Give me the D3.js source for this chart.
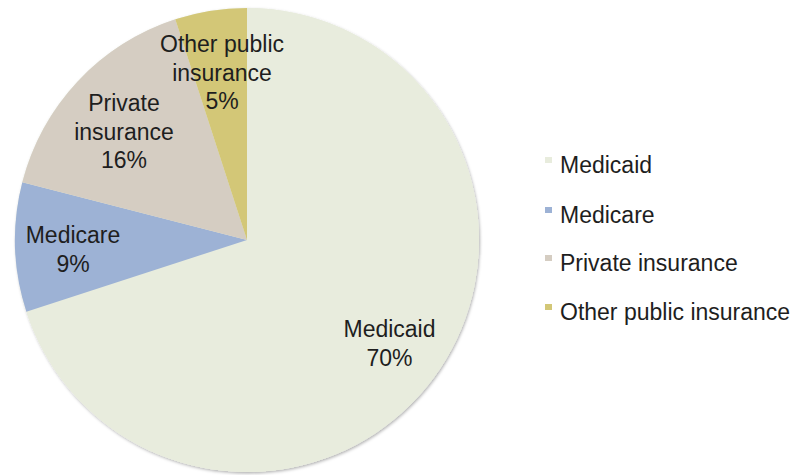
<!DOCTYPE html>
<html><head><meta charset="utf-8">
<script src="https://cdn.jsdelivr.net/npm/d3@7"></script>
<style>body{margin:0;background:#fff;}svg{display:block;}</style>
</head><body>
<svg id="c" width="799" height="475"></svg>
<script>
const categories = ["Medicaid", "Medicare", "Private insurance", "Other public insurance"];
const values = [70, 9, 16, 5];
const sliceLabels = [["Medicaid", "70%"], ["Medicare", "9%"], ["Private", "insurance", "16%"], ["Other public", "insurance", "5%"]];
const colors = ["#e8ecdd", "#9db2d5", "#d5cdc2", "#d3c777"];

const svg = d3.select("#c");
const cx = 247, cy = 240, R = 232;
const font = "Helvetica, 'Liberation Sans', Arial, sans-serif";

const defs = svg.append("defs");
const f = defs.append("filter").attr("id","sh").attr("x","-10%").attr("y","-10%").attr("width","120%").attr("height","120%");
f.append("feDropShadow").attr("dx",1).attr("dy",1.5).attr("stdDeviation",1.5).attr("flood-color","#000").attr("flood-opacity",0.3);

const pie = d3.pie().sort(null).value(d => d)(values);
const arc = d3.arc().innerRadius(0).outerRadius(R);
const g = svg.append("g").attr("transform", `translate(${cx},${cy})`);
g.append("circle").attr("r", R).attr("fill", colors[0]).attr("filter","url(#sh)");
g.selectAll("path.s").data(pie).join("path").attr("class","s")
  .attr("d", arc).attr("fill", (d,i) => colors[i]);

// label anchor: x center and first baseline, relative to pie center
const labelPos = [[142.5, 97], [-174, 3], [-123, -129], [-25, -188]];
const lh = 28.5;
pie.forEach((d,i) => {
  const lines = sliceLabels[i];
  const [lx, ly] = labelPos[i];
  const t = g.append("text").attr("text-anchor","middle").attr("font-family",font)
    .attr("font-size",23).attr("fill","#1e1e1e");
  lines.forEach((ln,j) => {
    t.append("tspan").attr("x", lx).attr("y", ly + j*lh).text(ln);
  });
});

const leg = svg.append("g").attr("transform","translate(545,0)");
const legY = [173, 223, 271, 320];
categories.forEach((c,i) => {
  leg.append("rect").attr("x",0).attr("y",legY[i]-16).attr("width",7).attr("height",6).attr("fill",colors[i]);
  leg.append("text").attr("x",15).attr("y",legY[i]).attr("font-family",font).attr("font-size",23).attr("fill","#1e1e1e").text(c);
});
</script>
</body></html>
